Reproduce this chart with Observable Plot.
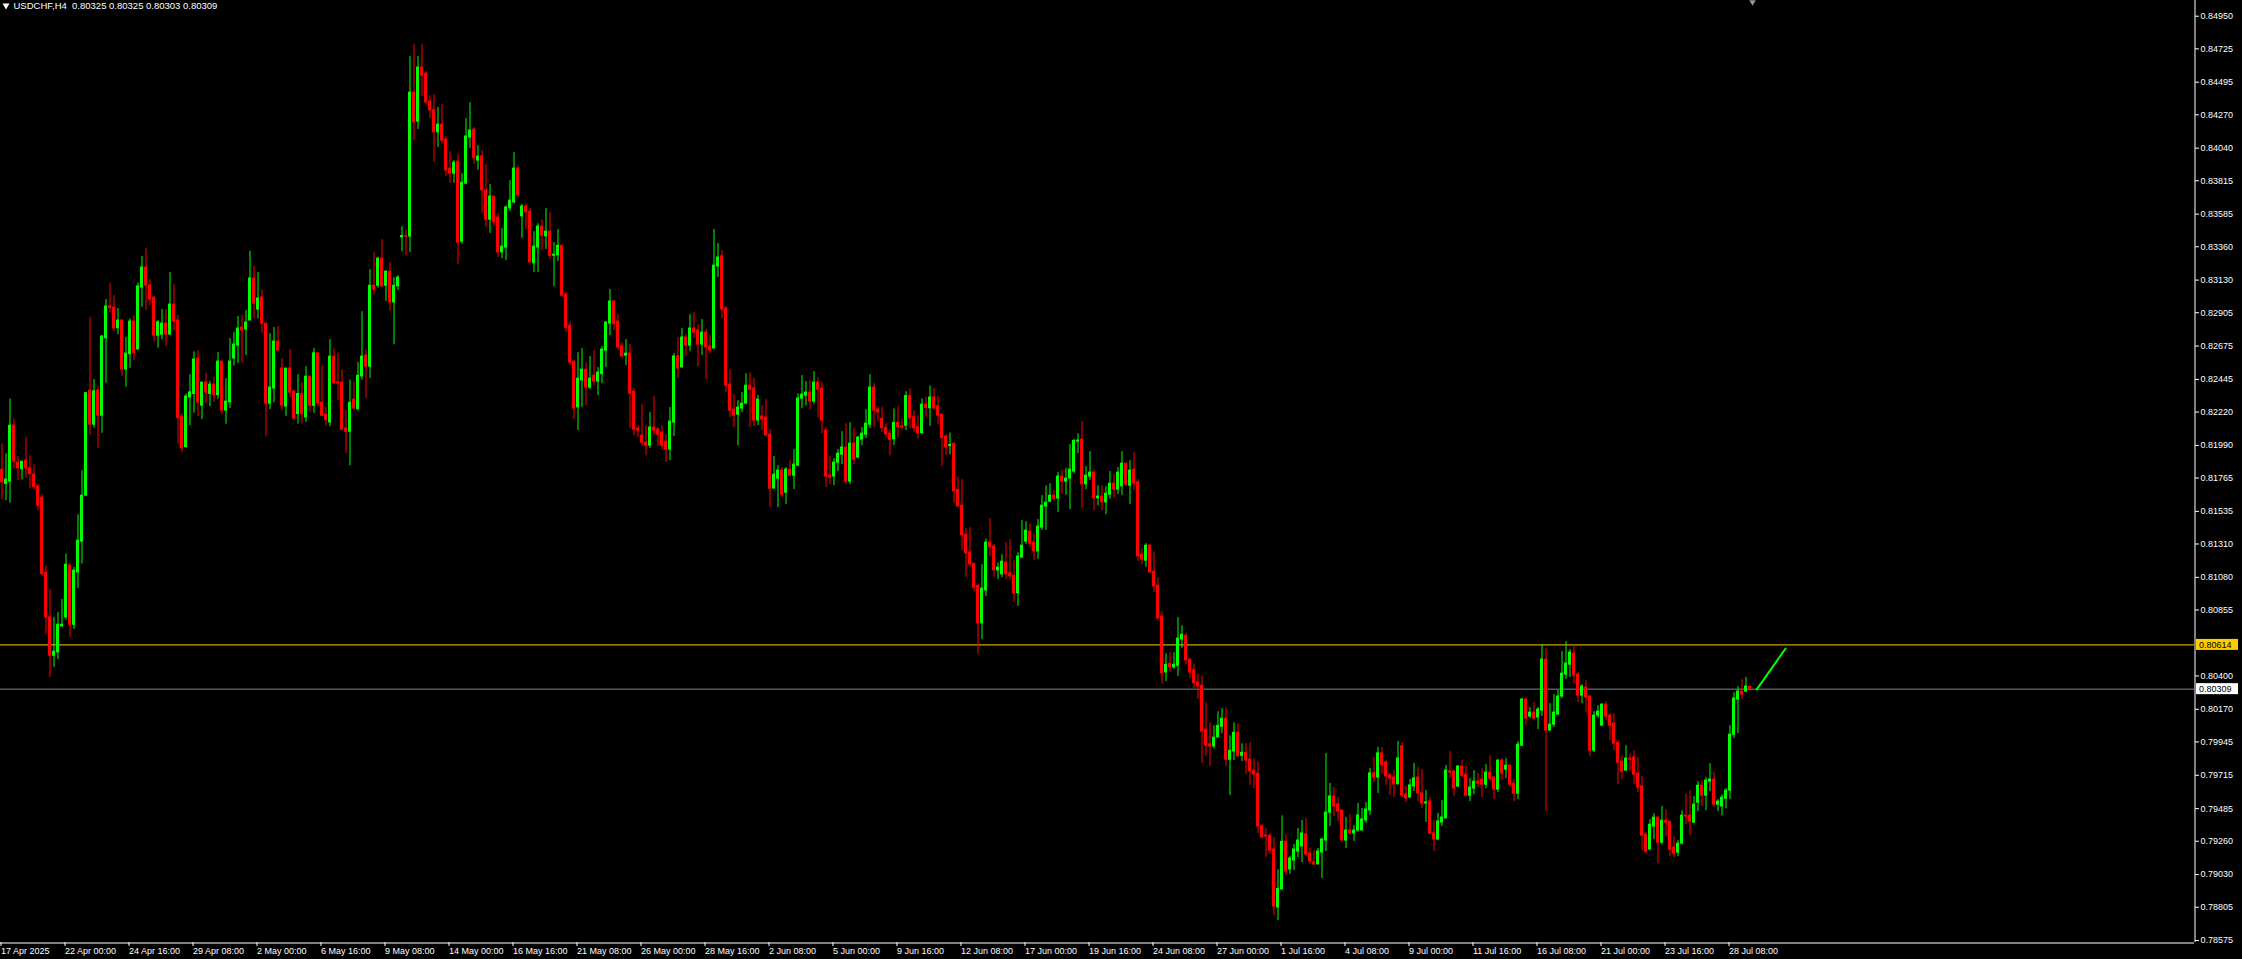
<!DOCTYPE html>
<html><head><meta charset="utf-8">
<script src="https://cdn.jsdelivr.net/npm/d3@7"></script>
<script src="https://cdn.jsdelivr.net/npm/@observablehq/plot@0.6"></script>
<style>html,body{margin:0;padding:0;background:#000;overflow:hidden}</style>
</head><body><div id="chart"></div>
<script>
// ---- data (prices in points, 1 point = 0.00001) ----
const symbolTitle = "USDCHF,H4";
const lastQuote = [0.80325, 0.80325, 0.80303, 0.80309];

const openPts = [
81821,81724,81740,82126,81871,81825,81885,81832,81788,81706,
81630,81112,80804,80539,80562,80742,80804,81160,80753,81114,
81326,81643,82368,82133,82368,82195,82729,82948,82941,82798,
82851,82513,82619,82844,82651,83079,83217,83092,83010,82747,
82754,82830,82754,82961,82851,82189,81977,82320,82345,82589,
82264,82423,82345,82409,82336,82568,82230,82287,82589,82678,
82803,82789,82851,83141,82927,83010,82830,82278,82382,82706,
82520,82258,82520,82361,82206,82344,82183,82464,82263,82625,
82284,82201,82148,82602,82424,82422,82107,82084,82305,82240,
82466,82608,82533,83091,83091,83278,83091,83188,82976,83087,
83425,83434,83430,84423,84223,84596,84554,84361,84301,84149,
84202,84099,83899,83864,83947,83395,83795,84113,84168,83954,
83982,83749,83547,83706,83561,83321,83354,83625,83666,83899,
83570,83637,83602,83246,83354,83499,83432,83464,83298,83301,
83367,83029,82815,82567,82252,82438,82511,82389,82471,82430,
82481,82644,82830,82982,82844,82672,82609,82623,82361,82106,
82057,82009,81988,82113,82099,82078,82016,81961,82147,82603,
82527,82734,82678,82796,82782,82685,82768,82672,82658,83224,
83293,82934,82409,82237,82202,82244,82278,82402,82382,82161,
82189,82182,82064,81692,81761,81816,81664,81823,81781,81850,
82313,82333,82354,82292,82423,82382,82092,81781,81775,81871,
81926,81975,81740,82002,81906,82030,82064,82133,82389,82237,
82172,82110,82071,82032,82145,82122,82126,82330,82184,82115,
82074,82271,82246,82320,82260,82202,82051,81986,82000,81683,
81574,81374,81250,81174,81020,80763,80990,81319,81292,81128,
81101,81181,81108,81091,80970,81216,81326,81395,81319,81259,
81423,81568,81602,81643,81623,81775,81740,81761,81809,82016,
82030,81722,81775,81802,81625,81637,81597,81650,81726,81685,
81708,81864,81712,81823,81735,81236,81195,81298,81119,81022,
80809,80424,80484,80459,80470,80652,80677,80512,80438,80355,
80332,80029,79928,79914,79976,80050,80105,79822,79879,80008,
79849,79870,79822,79746,79725,79362,79300,79297,79203,78803,
78927,79256,79065,79127,79189,79224,79307,79176,79113,79100,
79182,79265,79458,79569,79514,79472,79265,79334,79314,79334,
79334,79403,79472,79728,79700,79866,79803,79714,79700,79652,
79914,79583,79562,79638,79700,79590,79521,79534,79314,79272,
79389,79417,79741,79741,79637,79775,79719,79574,79623,79671,
79685,79650,79733,79699,79616,79816,79754,79781,79657,79588,
79919,80237,80120,80147,80113,80161,80513,80023,80064,80133,
80258,80409,80478,80554,80409,80264,80320,80258,79885,80126,
80057,80202,80126,80071,79940,79809,79747,79830,79837,79726,
79637,79305,79202,79361,79423,79250,79402,79395,79216,79181,
79243,79436,79436,79388,79526,79643,79574,79671,79685,79512,
79499,79554,79609,79995,80237,80292,80292,80325];

const highPts = [
82000,81931,82310,82172,81913,81878,82046,81919,81855,81719,
81650,81160,80995,80804,80836,80928,81241,81179,81149,81512,
81816,82356,82874,82444,82398,82747,82996,83109,83023,82934,
82858,82736,82862,82885,83109,83293,83348,83134,83012,82851,
82927,82927,83182,83099,82885,82207,82345,82478,82635,82644,
82423,82488,82430,82460,82630,82568,82451,82727,82770,82879,
82885,82920,83329,83224,83182,83058,82830,82761,82803,82810,
82589,82520,82651,82368,82477,82424,82533,82464,82659,82625,
82539,82252,82719,82654,82625,82510,82234,82441,82429,82562,
82912,82650,83202,83319,83287,83409,83195,83250,83147,83160,
83499,83476,84672,84754,84672,84754,84568,84402,84409,84320,
84340,84120,84016,83954,83995,83864,84244,84354,84182,84057,
84023,83926,83788,83706,83591,83485,83643,83816,84009,83919,
83653,83657,83625,83464,83519,83547,83623,83595,83388,83478,
83367,83043,82843,82574,82629,82657,82559,82603,82644,82527,
82672,82844,83065,82989,82892,82699,82720,82685,82382,82126,
82271,82126,82216,82327,82113,82126,82064,82251,82623,82734,
82796,82754,82892,82906,82823,82858,82789,82747,83479,83382,
83334,82948,82513,82340,82299,82354,82485,82492,82451,82333,
82264,82306,82099,81913,81850,81837,81837,81885,81961,82347,
82471,82430,82437,82499,82458,82423,82113,81913,81899,81961,
82085,82140,82147,82106,82051,82113,82237,82478,82416,82253,
82253,82138,82097,82241,82260,82172,82360,82380,82230,82195,
82310,82320,82400,82380,82330,82207,82062,82076,82007,81772,
81754,81416,81423,81174,81034,81167,81344,81485,81308,81179,
81236,81319,81340,81195,81250,81471,81464,81448,81381,81478,
81643,81712,81726,81678,81802,81821,81830,81995,82032,82071,
82154,81844,81947,81823,81712,81712,81706,81809,81788,81837,
81947,81871,81885,81940,81754,81278,81312,81305,81257,81078,
80843,80553,80560,80560,80802,80746,80691,80519,80484,80413,
80399,80215,80077,80056,80153,80174,80181,79987,80077,80070,
79932,79932,79939,79829,79808,79376,79348,79314,79286,79063,
79435,79304,79155,79238,79348,79403,79417,79210,79196,79210,
79279,79866,79659,79631,79562,79479,79424,79445,79369,79521,
79486,79527,79762,79838,79907,79907,79817,79728,79748,79948,
79941,79638,79686,79797,79769,79755,79610,79562,79403,79452,
79541,79783,79879,79748,79781,79816,79781,79692,79747,79726,
79761,79788,79850,79706,79823,79830,79830,79788,79685,79947,
80244,80244,80182,80216,80182,80616,80589,80209,80271,80299,
80568,80637,80582,80609,80423,80340,80368,80264,80154,80195,
80209,80223,80140,80140,79954,79850,79919,79864,79885,79837,
79706,79319,79409,79450,79423,79499,79478,79395,79292,79264,
79471,79588,79609,79568,79671,79678,79699,79795,79733,79547,
79581,79623,80057,80285,80327,80375,80389,80325];

const lowPts = [
81616,81609,81591,81827,81747,81752,81763,81689,81683,81540,
81091,80684,80390,80459,80512,80735,80786,80666,80719,81004,
81172,81643,82057,82108,81970,82074,82419,82902,82777,82754,
82467,82391,82522,82575,82651,82943,82920,82954,82701,82660,
82718,82674,82754,82780,82000,81942,81977,82126,82212,82189,
82168,82281,82258,82287,82308,82202,82136,82244,82538,82554,
82557,82609,82851,82862,82862,82764,82051,82237,82285,82644,
82230,82189,82320,82161,82137,82137,82148,82217,82211,82252,
82188,82125,82119,82413,82298,82096,81935,81849,82234,82229,
82441,82314,82452,83027,83075,83080,82983,82914,82684,83057,
83326,83298,83319,84092,84168,84396,84340,84244,83942,84044,
84071,83846,83798,83798,83239,83377,83788,84039,83929,83887,
83591,83494,83453,83501,83287,83278,83264,83602,83655,83694,
83418,83480,83252,83183,83183,83333,83340,83271,83085,83259,
83011,82769,82542,82169,82093,82252,82264,82375,82402,82333,
82416,82527,82747,82782,82644,82596,82540,82106,82057,82044,
81982,81919,81968,82057,81982,81961,81871,81885,82051,82451,
82527,82603,82637,82727,82534,82609,82444,82623,82658,83148,
82865,82354,82182,82113,81988,82216,82271,82113,82120,82126,
82092,82057,81561,81692,81561,81630,81581,81781,81685,81844,
82244,82264,82237,82271,82182,82071,81699,81719,81712,81809,
81857,81719,81719,81857,81899,81988,82037,82106,82113,82156,
82080,82041,81919,81988,82041,82092,82092,82103,82080,82034,
82067,82184,82122,82230,82133,81846,81919,81926,81591,81563,
81264,81080,81149,80979,80551,80650,80947,81223,81078,81066,
81078,81066,81059,80912,80880,81211,81308,81285,81195,81204,
81404,81404,81595,81609,81528,81655,81646,81547,81795,81933,
81556,81685,81749,81540,81574,81540,81512,81618,81625,81650,
81643,81706,81581,81678,81190,81167,81149,81105,80976,80776,
80344,80362,80424,80445,80397,80590,80475,80383,80314,80238,
79797,79847,79776,79895,79976,80001,79776,79576,79817,79845,
79810,79721,79645,79624,79314,79279,79148,79169,78748,78713,
78927,79024,79031,79058,79148,79113,79155,79100,79093,79100,
79003,79189,79362,79431,79396,79258,79210,79307,79258,79320,
79334,79383,79438,79665,79590,79721,79645,79576,79562,79652,
79562,79527,79555,79603,79534,79486,79389,79314,79189,79265,
79362,79417,79693,79569,79630,79699,79574,79533,79581,79630,
79561,79623,79671,79547,79595,79678,79692,79643,79533,79547,
79913,80057,80106,80099,80030,80120,79464,80023,80044,80133,
80244,80375,80389,80347,80216,80209,80147,79844,79871,80106,
80057,80092,79954,79885,79650,79685,79747,79740,79650,79595,
79195,79167,79202,79271,79105,79236,79292,79154,79147,79154,
79236,79374,79298,79381,79464,79499,79471,79602,79492,79464,
79436,79485,79547,79968,80002,80237,80285,80303];

const closePts = [
81735,81754,82126,81878,81832,81878,81832,81793,81701,81574,
81103,80804,80539,80567,80753,80753,81167,80753,81126,81333,
81643,82350,82133,82363,82195,82741,82948,82938,82798,82851,
82513,82623,82844,82626,83086,83217,83092,82996,82747,82839,
82830,82754,82961,82844,82179,81970,82327,82356,82582,82285,
82423,82354,82409,82336,82568,82230,82292,82568,82685,82796,
82782,82837,83141,82968,83003,82830,82278,82389,82706,82644,
82264,82520,82354,82175,82344,82206,82464,82263,82625,82280,
82194,82165,82602,82418,82418,82098,82084,82284,82245,82470,
82602,82533,83091,83064,83278,83087,83188,82976,83091,83147,
83434,83430,84423,84218,84596,84540,84356,84301,84149,84202,
84092,83887,83864,83940,83388,83802,84120,84161,83970,83982,
83749,83547,83706,83528,83321,83361,83630,83678,83899,83715,
83637,83597,83252,83361,83499,83436,83464,83298,83305,83367,
83022,82802,82562,82245,82450,82512,82389,82451,82430,82492,
82651,82837,82982,82826,82665,82603,82623,82347,82099,82092,
82009,81988,82113,82092,82064,81988,81961,82154,82603,82520,
82734,82678,82796,82768,82685,82768,82665,82644,83230,83286,
82927,82402,82230,82195,82251,82278,82402,82375,82161,82306,
82168,82057,81692,81788,81816,81650,81823,81781,81857,82313,
82340,82354,82292,82423,82375,82161,81775,81768,81871,81933,
81975,81740,82002,81892,82044,82071,82140,82389,82230,82218,
82110,82067,82028,82145,82115,82113,82330,82177,82108,82074,
82271,82248,82320,82246,82195,82041,81977,81993,81673,81570,
81370,81246,81170,81009,80763,81002,81319,81287,81128,81147,
81188,81101,81087,80970,81223,81298,81402,81312,81259,81430,
81574,81595,81643,81623,81775,81740,81761,81823,82021,82023,
81722,81781,81802,81625,81637,81597,81657,81726,81685,81802,
81864,81719,81816,81726,81225,81202,81298,81114,81018,80797,
80418,80477,80459,80477,80657,80684,80507,80424,80349,80328,
80017,79921,79914,79974,80056,80105,79822,79884,80008,79845,
79870,79817,79741,79721,79362,79286,79293,79196,78810,78932,
79256,79051,79141,79203,79265,79314,79169,79120,79100,79189,
79272,79458,79569,79500,79465,79265,79334,79314,79334,79438,
79410,79479,79728,79700,79866,79783,79707,79693,79652,79831,
79576,79555,79645,79693,79590,79521,79527,79314,79272,79396,
79424,79748,79734,79624,79775,79712,79574,79630,79671,79657,
79650,79733,79692,79616,79816,79726,79781,79650,79588,79926,
80237,80106,80147,80106,80168,80513,80023,80064,80147,80258,
80416,80485,80561,80402,80264,80327,80251,79885,80126,80154,
80202,80120,80057,79933,79802,79740,79830,79823,79719,79630,
79298,79188,79374,79423,79250,79402,79388,79202,79174,79243,
79436,79430,79395,79512,79643,79574,79678,79685,79512,79533,
79561,79609,79995,80244,80292,80271,80327,80309];

const priceTicks = [0.84950,0.84725,0.84495,0.84270,0.84040,0.83815,0.83585,0.83360,0.83130,0.82905,0.82675,0.82445,0.82220,0.81990,0.81765,0.81535,0.81310,0.81080,0.80855,0.80400,0.80170,0.79945,0.79715,0.79485,0.79260,0.79030,0.78805,0.78575];
const timeTickBars = [0,16,32,48,64,80,96,112,128,144,160,176,192,208,224,240,256,272,288,304,320,336,352,368,384,400,416,432];
const timeTickLabels = ["17 Apr 2025","22 Apr 00:00","24 Apr 16:00","29 Apr 08:00","2 May 00:00","6 May 16:00","9 May 08:00","14 May 00:00","16 May 16:00","21 May 08:00","26 May 00:00","28 May 16:00","2 Jun 08:00","5 Jun 00:00","9 Jun 16:00","12 Jun 08:00","17 Jun 00:00","19 Jun 16:00","24 Jun 08:00","27 Jun 00:00","1 Jul 16:00","4 Jul 08:00","9 Jul 00:00","11 Jul 16:00","16 Jul 08:00","21 Jul 00:00","23 Jul 16:00","28 Jul 08:00"];
const levelPrice = 0.80614;
const bidPrice = 0.80309;
const arrowBars = [438.7, 445.9];
const arrowPrices = [0.80307, 0.80589];
const priceDomain = [0.785617, 0.850583];
const barDomain = [-0.375, 548.125];

// ---- build ----
const UP = "#00ff00", DOWN = "#ff0000";
const bars = openPts.map((o, i) => ({
  i, open: o / 1e5, high: highPts[i] / 1e5, low: lowPts[i] / 1e5, close: closePts[i] / 1e5
}));
const upBars = bars.filter(d => d.close >= d.open);
const downBars = bars.filter(d => d.close < d.open);
const labelByBar = new Map(timeTickBars.map((b, k) => [b, timeTickLabels[k]]));
const arrow = arrowBars.map((b, k) => ({x: b, y: arrowPrices[k]}));
const titleText = `${symbolTitle}  ${lastQuote.map(v => v.toFixed(5)).join(" ")}`;

const FONT = "'Liberation Sans', Arial, sans-serif";
const bodyRect = (data, color) => Plot.rect(data, {
  x1: d => d.i - 0.375, x2: d => d.i + 0.375, y1: "open", y2: "close",
  fill: color, insetTop: -0.5, insetBottom: -0.5
});
const wick = (data, color) => Plot.ruleX(data, {x: "i", y1: "low", y2: "high", stroke: color, strokeWidth: 1});

const chart = Plot.plot({
  width: 2242, height: 959,
  marginLeft: 0, marginRight: 48, marginTop: 0, marginBottom: 17,
  style: {background: "#000", color: "#fff", fontFamily: FONT, fontSize: "9px", overflow: "visible"},
  x: {domain: barDomain, axis: null},
  y: {domain: priceDomain, axis: null},
  marks: [
    Plot.ruleY([levelPrice], {stroke: "#ffcc00", strokeWidth: 1}),
    Plot.ruleY([bidPrice], {stroke: "#778899", strokeWidth: 1}),
    wick(upBars, UP), wick(downBars, DOWN),
    bodyRect(upBars, UP), bodyRect(downBars, DOWN),
    Plot.line(arrow, {x: "x", y: "y", stroke: UP, strokeWidth: 2}),
    Plot.ruleX([barDomain[1]], {stroke: "#fff", dx: 0.5}),
    Plot.ruleY([priceDomain[0]], {stroke: "#fff", dy: 0.5}),
    Plot.axisY(priceTicks, {anchor: "right", tickSize: 4, tickPadding: 2, tickFormat: d => d.toFixed(5), color: "#fff", fontSize: 9}),
    Plot.axisX(timeTickBars, {anchor: "bottom", tickSize: 4, tickPadding: 1, tickFormat: d => labelByBar.get(d), textAnchor: "start", dx: -1, color: "#fff", fontSize: 9}),
    Plot.text([titleText], {frameAnchor: "top-left", dx: 13, dy: 1.5, textAnchor: "start", lineAnchor: "top", fill: "#fff", fontSize: 9.5}),
    Plot.dot([0], {frameAnchor: "top-left", dx: 5.5, dy: 5, symbol: "triangle", r: 2.6, rotate: 180, fill: "#fff", stroke: null}),
    Plot.dot([0], {frameAnchor: "top-left", dx: 1752, dy: 1.5, symbol: "triangle", r: 2.4, rotate: 180, fill: "#9a9a9a", stroke: null})
  ]
});

// price labels for the two horizontal lines
const yScale = chart.scale("y");
const svg = d3.select(chart);
function priceBox(v, bg) {
  const yy = yScale.apply(v);
  const g = svg.append("g").attr("text-anchor", "start");
  g.append("rect").attr("x", 2196).attr("y", yy - 5.5).attr("width", 42).attr("height", 11).attr("fill", bg);
  g.append("text").attr("x", 2199).attr("y", yy).attr("dy", "0.35em").attr("fill", "#000")
    .attr("text-anchor", "start").attr("font-family", FONT).attr("font-size", 9).text(v.toFixed(5));
}
priceBox(levelPrice, "#ffcc00");
priceBox(bidPrice, "#ffffff");

document.getElementById("chart").appendChild(chart);
</script>
</body></html>
